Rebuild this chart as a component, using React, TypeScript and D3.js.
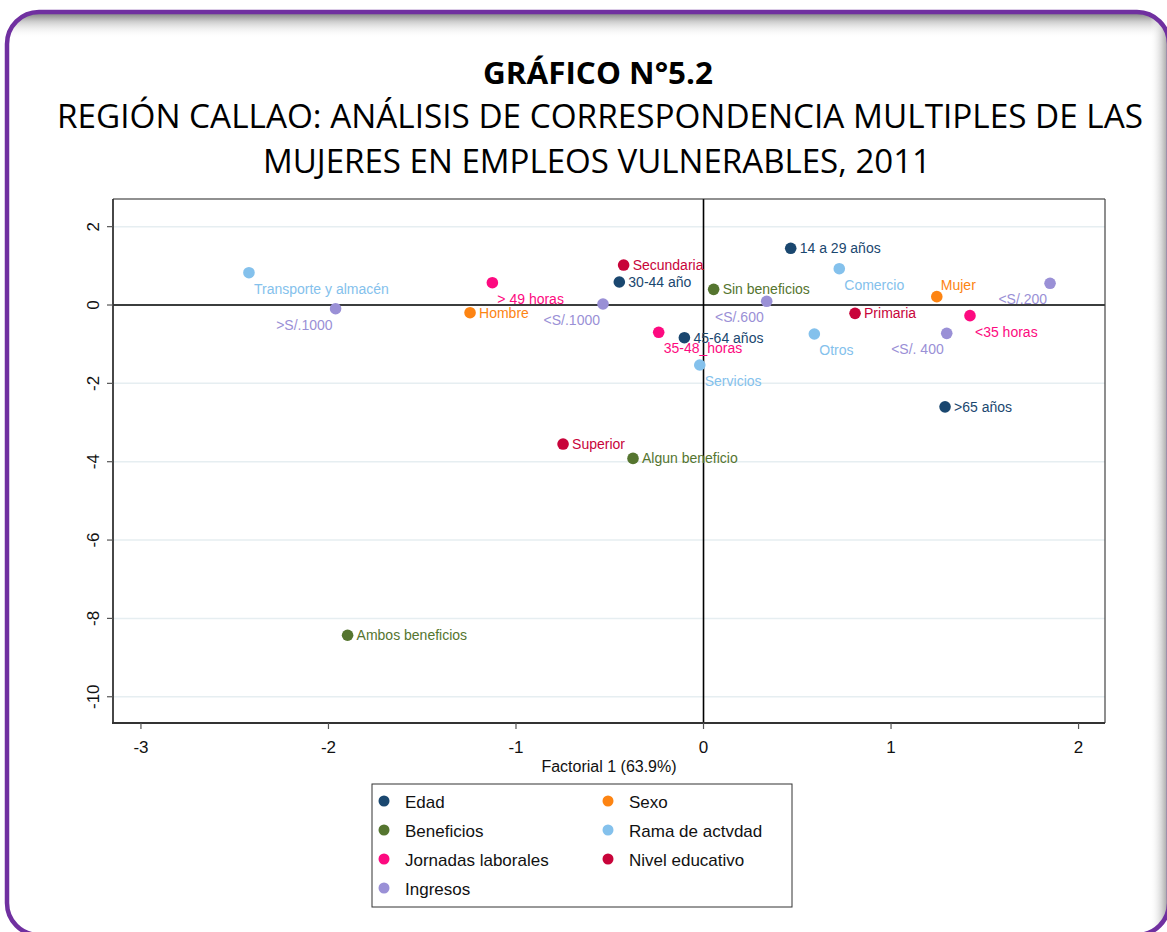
import React from "react";
import * as d3 from "d3";

// ---------- data ----------
const groups = ["Edad", "Beneficios", "Jornadas laborales", "Ingresos", "Sexo", "Rama de actividad", "Nivel educativo"];
const groupLegend = ["Edad", "Beneficios", "Jornadas laborales", "Ingresos", "Sexo", "Rama de actvdad", "Nivel educativo"];
const groupColors = ["#1a476f", "#55752f", "#fd0a80", "#9a90d6", "#fd8412", "#84c1ec", "#c8043a"];

const labels = [
  "14 a 29 años", "30-44 año", "45-64 años", ">65 años",
  "Sin beneficios", "Algun beneficio", "Ambos beneficios",
  "> 49 horas", "35-48_horas", "<35 horas",
  ">S/.1000", "<S/.1000", "<S/.600", "<S/. 400", "<S/.200",
  "Hombre", "Mujer",
  "Transporte y almacén", "Comercio", "Otros", "Servicios",
  "Secundaria", "Primaria", "Superior",
];
const labelGroup = [
  0, 0, 0, 0,
  1, 1, 1,
  2, 2, 2,
  3, 3, 3, 3, 3,
  4, 4,
  5, 5, 5, 5,
  6, 6, 6,
];
const factor1 = [
  0.465, -0.449, -0.102, 1.288,
  0.054, -0.376, -1.898,
  -1.126, -0.239, 1.421,
  -1.962, -0.536, 0.337, 1.297, 1.848,
  -1.245, 1.244,
  -2.424, 0.724, 0.591, -0.020,
  -0.426, 0.808, -0.749,
];
const factor2 = [
  1.447, 0.587, -0.834, -2.60,
  0.40, -3.915, -8.43,
  0.57, -0.697, -0.272,
  -0.094, 0.026, 0.094, -0.723, 0.554,
  -0.196, 0.213,
  0.825, 0.927, -0.74, -1.532,
  1.02, -0.213, -3.549,
];
// Stata-style clock position of each label
const labelClock = [
  3, 3, 3, 3,
  3, 3, 3,
  5, 5, 5,
  7, 7, 7, 7, 7,
  3, 1,
  5, 5, 5, 5,
  3, 3, 3,
];

const xTicks = [-3, -2, -1, 0, 1, 2];
const yTicks = [2, 0, -2, -4, -6, -8, -10];
const xTitle = "Factorial 1 (63.9%)";
const titleLines = [
  "GRÁFICO N°5.2",
  "REGIÓN CALLAO: ANÁLISIS DE CORRESPONDENCIA MULTIPLES DE LAS",
  "MUJERES EN EMPLEOS VULNERABLES, 2011",
];

// ---------- layout ----------
const W = 1167;
const H = 932;
const plot = { left: 113, right: 1105, top: 199, bottom: 723 };

export default function App() {
  const x = d3.scaleLinear().domain([-3.149, 2.141]).range([plot.left, plot.right]);
  const y = d3.scaleLinear().domain([2.706, -10.67]).range([plot.top, plot.bottom]);
  const font = "Liberation Sans, Arial, sans-serif";
  const tfont = "'Open Sans', Lato, sans-serif";

  const labelPos = (c: number, px: number, py: number) => {
    if (c === 3) return { x: px + 9, y: py + 5, anchor: "start" };
    if (c === 5) return { x: px + 5, y: py + 21, anchor: "start" };
    if (c === 7) return { x: px - 3, y: py + 21, anchor: "end" };
    if (c === 1) return { x: px + 4, y: py - 7, anchor: "start" };
    return { x: px + 9, y: py + 5, anchor: "start" };
  };

  const legendX = 372, legendY = 784, legendW = 420, legendH = 123;
  const legendOrder = [0, 4, 1, 5, 2, 6, 3];

  const fx = 7, fy = 12, fw = 1162, fh = 923;

  return (
    <div style={{ position: "absolute", left: 0, top: 0 }}>
      <svg width={W} height={H} style={{ display: "block", background: "#fff" }}>
        <defs>
          <clipPath id="frameClip">
            <rect x={fx} y={fy} width={fw} height={fh} rx={32} ry={32} />
          </clipPath>
          <linearGradient id="topShade" x1="0" y1="0" x2="0" y2="1">
            <stop offset="0" stopColor="#7a7a7a" />
            <stop offset="0.35" stopColor="#cacaca" />
            <stop offset="1" stopColor="#ffffff" stopOpacity="0" />
          </linearGradient>
          <linearGradient id="rightShade" x1="0" y1="0" x2="1" y2="0">
            <stop offset="0" stopColor="#ffffff" stopOpacity="0" />
            <stop offset="0.6" stopColor="#d8d8d8" />
            <stop offset="1" stopColor="#9a9a9a" />
          </linearGradient>
        </defs>

        {/* decorative frame */}
        <g clipPath="url(#frameClip)">
          <rect x={fx} y={fy} width={fw} height={26} fill="url(#topShade)" />
          <rect x={1150} y={fy} width={19} height={fh} fill="url(#rightShade)" />
        </g>
        <rect x={fx} y={fy} width={fw} height={fh} rx={32} ry={32} fill="none" stroke="#7030a0" strokeWidth={4.5} />

        {/* titles */}
        <text x={598} y={84} textAnchor="middle" fontFamily={tfont} fontWeight={700} fontSize={31}
          textLength={230} lengthAdjust="spacingAndGlyphs">{titleLines[0]}</text>
        <text x={600} y={128} textAnchor="middle" fontFamily={tfont} fontSize={32}
          textLength={1086} lengthAdjust="spacingAndGlyphs">{titleLines[1]}</text>
        <text x={597} y={173} textAnchor="middle" fontFamily={tfont} fontSize={32}
          textLength={668} lengthAdjust="spacingAndGlyphs">{titleLines[2]}</text>

        {/* grid */}
        {yTicks.map((t) => (
          <line key={"g" + t} x1={plot.left} x2={plot.right} y1={y(t)} y2={y(t)} stroke="#e6eef1" strokeWidth={1.5} />
        ))}

        {/* reference lines */}
        <line x1={plot.left} x2={plot.right} y1={y(0)} y2={y(0)} stroke="#000" strokeWidth={1.6} />
        <line x1={x(0)} x2={x(0)} y1={plot.top} y2={plot.bottom} stroke="#000" strokeWidth={1.6} />

        {/* frame of plot */}
        <line x1={plot.left} x2={plot.right} y1={plot.top} y2={plot.top} stroke="#222" strokeWidth={1.2} />
        <line x1={plot.right} x2={plot.right} y1={plot.top} y2={plot.bottom} stroke="#444" strokeWidth={1.2} />
        <line x1={plot.left} x2={plot.left} y1={plot.top} y2={plot.bottom + 1} stroke="#333" strokeWidth={1.8} />
        <line x1={plot.left - 1} x2={plot.right} y1={plot.bottom} y2={plot.bottom} stroke="#333" strokeWidth={1.8} />

        {/* y axis */}
        {yTicks.map((t) => (
          <g key={"y" + t}>
            <line x1={plot.left - 6} x2={plot.left} y1={y(t)} y2={y(t)} stroke="#555" strokeWidth={1.2} />
            <text transform={`translate(${plot.left - 14},${y(t)}) rotate(-90)`} textAnchor="middle"
              fontFamily={font} fontSize={17} fill="#111">{t}</text>
          </g>
        ))}

        {/* x axis */}
        {xTicks.map((t) => (
          <g key={"x" + t}>
            <line x1={x(t)} x2={x(t)} y1={plot.bottom} y2={plot.bottom + 6} stroke="#555" strokeWidth={1.2} />
            <text x={x(t)} y={plot.bottom + 30} textAnchor="middle" fontFamily={font} fontSize={17} fill="#111">{t}</text>
          </g>
        ))}
        <text x={(plot.left + plot.right) / 2} y={772} textAnchor="middle" fontFamily={font} fontSize={16} fill="#111">{xTitle}</text>

        {/* points */}
        {labels.map((lab, i) => {
          const px = x(factor1[i]);
          const py = y(factor2[i]);
          const col = groupColors[labelGroup[i]];
          const p = labelPos(labelClock[i], px, py);
          return (
            <g key={"p" + i}>
              <circle cx={px} cy={py} r={5.8} fill={col} />
              <text x={p.x} y={p.y} textAnchor={p.anchor} fontFamily={font} fontSize={14} fill={col}>{lab}</text>
            </g>
          );
        })}

        {/* legend */}
        <rect x={legendX} y={legendY} width={legendW} height={legendH} fill="#fff" stroke="#333" strokeWidth={1} />
        {legendOrder.map((gi, k) => {
          const col = k % 2;
          const row = Math.floor(k / 2);
          const mx = legendX + 12 + col * 224;
          const my = legendY + 17 + row * 29;
          return (
            <g key={"l" + gi}>
              <circle cx={mx} cy={my} r={5.5} fill={groupColors[gi]} />
              <text x={mx + 21} y={my + 7} fontFamily={font} fontSize={17} fill="#111">{groupLegend[gi]}</text>
            </g>
          );
        })}
      </svg>
    </div>
  );
}
